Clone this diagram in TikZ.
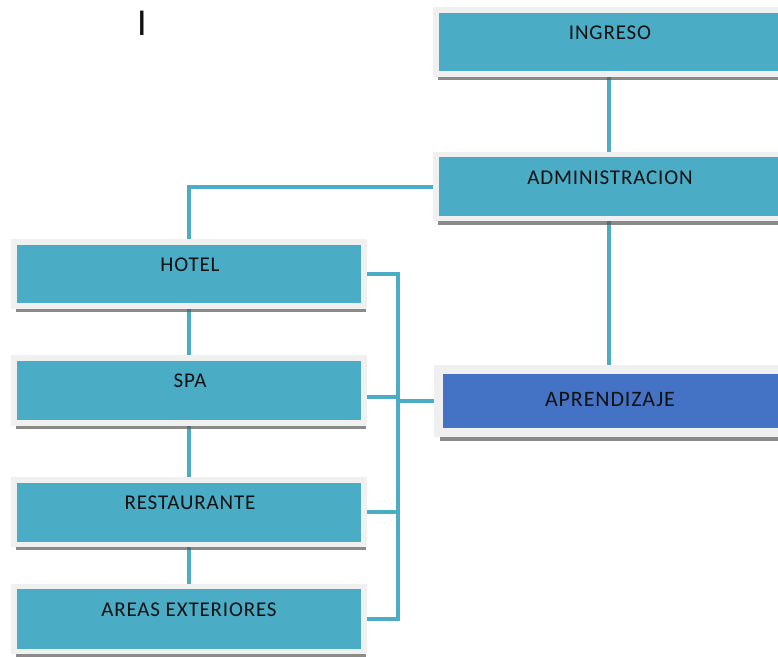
\documentclass[tikz,border=0pt]{standalone}
\usepackage{fontspec}
\setmainfont{Carlito}
\newfontfamily\lblfont[LetterSpace=4]{Carlito}
\usetikzlibrary{shadows,backgrounds}
\definecolor{tealfill}{HTML}{4BACC6}
\definecolor{framegray}{HTML}{F0F0F0}
\definecolor{bluefill}{HTML}{4472C4}
\definecolor{connc}{HTML}{4BACC6}
\definecolor{txt}{HTML}{111111}
\tikzset{
  box/.style={rectangle, fill=tealfill, draw=framegray, line width=5.5pt, inner sep=0pt,
    drop shadow={shadow xshift=2pt, shadow yshift=-6pt, fill=black!65, opacity=0.7}},
  bluebox/.style={rectangle, fill=bluefill, draw=framegray, line width=9pt, inner sep=0pt,
    drop shadow={shadow xshift=2pt, shadow yshift=-8.5pt, fill=black!65, opacity=0.7}},
  lbl/.style={font=\lblfont\fontsize{21}{25}\selectfont, text=txt, inner sep=0pt},
  conn/.style={draw=connc, line width=4pt},
}
\begin{document}
\begin{tikzpicture}[x=1pt,y=-1pt]
\clip (0,0) rectangle (778,656);

\node[font=\fontsize{38}{40}\selectfont, text=txt, inner sep=0pt] (cursor) at (142,23.5) {I};

\node[box, minimum width=346pt, minimum height=64pt] (ingreso) at (609,42) {};
\node[box, minimum width=346pt, minimum height=64pt] (admin) at (609,186.7) {};
\node[bluebox, minimum width=344pt, minimum height=63pt] (aprend) at (610,401) {};
\node[box, minimum width=350pt, minimum height=64pt] (hotel) at (189,274) {};
\node[box, minimum width=350pt, minimum height=65pt] (spa) at (189,390.5) {};
\node[box, minimum width=350pt, minimum height=64.5pt] (rest) at (189,512) {};
\node[box, minimum width=350pt, minimum height=65pt] (areas) at (189,619) {};

\node[lbl] (tingreso) at (610,33) {INGRESO};
\node[lbl] (tadmin) at (610,178) {ADMINISTRACION};
\node[lbl, font=\lblfont\fontsize{22}{26}\selectfont] (taprend) at (610,400) {APRENDIZAJE};
\node[lbl] (thotel) at (190,265) {HOTEL};
\node[lbl] (tspa) at (190,381) {SPA};
\node[lbl] (trest) at (190,503) {RESTAURANTE};
\node[lbl] (tareas) at (189,610) {AREAS EXTERIORES};

\begin{scope}[on background layer]
  \coordinate (bustop) at (398,274);
  \coordinate (busbot) at (398,619);
  \draw[conn] (ingreso.center) -- (admin.center);
  \draw[conn] (admin.center) -- (admin.center |- aprend.center);
  \draw[conn] (admin.center) -| (hotel.center);
  \draw[conn] (hotel.center) -- (areas.center);
  \draw[conn] (hotel.center) -- (bustop) -- (busbot) -- (areas.center);
  \draw[conn] ([yshift=-6pt]spa.center) -- ([yshift=-6pt]spa.center -| bustop);
  \draw[conn] (rest.center) -- (rest.center -| bustop);
  \draw[conn] (aprend.center) -- (aprend.center -| bustop);
\end{scope}
\end{tikzpicture}
\end{document}
